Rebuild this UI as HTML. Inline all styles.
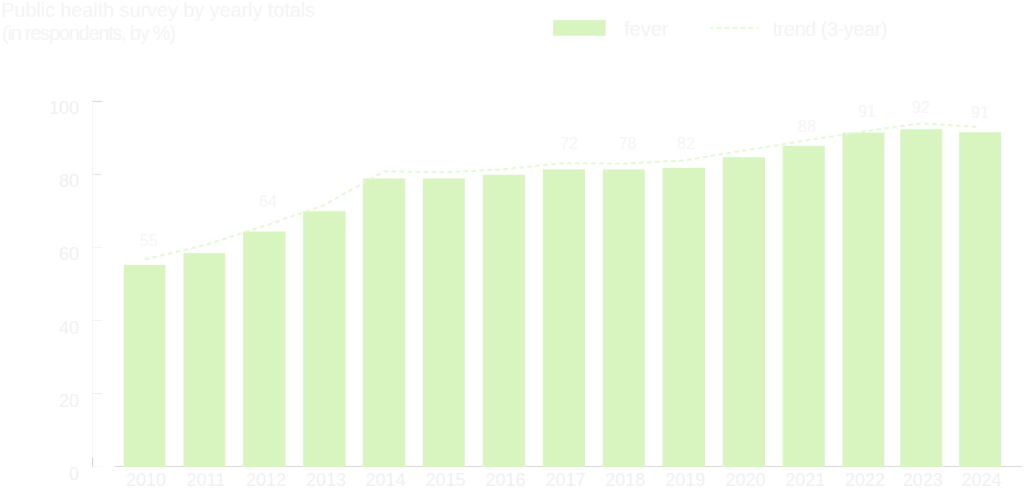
<!DOCTYPE html>
<html><head><meta charset="utf-8"><title>chart</title>
<style>
html,body{margin:0;padding:0;background:#fff;}
body{width:1024px;height:492px;overflow:hidden;font-family:"Liberation Sans",sans-serif;}
svg{display:block}
text{font-family:"Liberation Sans",sans-serif;}
</style></head><body>
<svg width="1024" height="492" viewBox="0 0 1024 492">
<rect width="1024" height="492" fill="#ffffff"/>

<g fill="#f4f4f4" font-size="20">
<text x="1" y="17" textLength="314" lengthAdjust="spacing">Public health survey by yearly totals</text>
<text x="2" y="39.5" textLength="174" lengthAdjust="spacing">(in respondents, by %)</text>
</g>
<rect x="553.1" y="20.1" width="52.5" height="15.7" fill="#d8f5c0"/>
<text x="624" y="35.5" font-size="20" fill="#f3f3f3">fever</text>
<line x1="710.6" y1="28" x2="758.8" y2="28" stroke="#e6f9d8" stroke-width="2" stroke-dasharray="4.5 3.5" stroke-dashoffset="2"/>
<text x="772.5" y="35.5" font-size="20" fill="#f3f3f3" textLength="115" lengthAdjust="spacing">trend (3-year)</text>
<line x1="92.5" y1="101.4" x2="92.5" y2="466.5" stroke="#f5f8f0" stroke-width="1"/>
<line x1="92.5" y1="101.4" x2="102" y2="101.4" stroke="#d4d4d4" stroke-width="1"/>
<text x="79" y="114.4" font-size="18" text-anchor="end" fill="#f0f0f0">100</text>
<line x1="92.5" y1="174.4" x2="102" y2="174.4" stroke="#e4e4e4" stroke-width="1"/>
<text x="79" y="187.4" font-size="18" text-anchor="end" fill="#f0f0f0">80</text>
<line x1="92.5" y1="247.4" x2="102" y2="247.4" stroke="#f2f2f2" stroke-width="1"/>
<text x="79" y="260.4" font-size="18" text-anchor="end" fill="#f0f0f0">60</text>
<line x1="92.5" y1="320.5" x2="102" y2="320.5" stroke="#f2f2f2" stroke-width="1"/>
<text x="79" y="333.5" font-size="18" text-anchor="end" fill="#f0f0f0">40</text>
<line x1="92.5" y1="393.5" x2="102" y2="393.5" stroke="#eeeeee" stroke-width="1"/>
<text x="79" y="406.5" font-size="18" text-anchor="end" fill="#f0f0f0">20</text>
<line x1="92.5" y1="466.5" x2="102" y2="466.5" stroke="#f6f6f6" stroke-width="1"/>
<text x="79" y="479.5" font-size="18" text-anchor="end" fill="#f0f0f0">0</text>
<rect x="92" y="458" width="1" height="8.5" fill="#d0d0d0"/>
<rect x="115" y="466" width="907" height="1" fill="#dadada"/>
<rect x="123.75" y="265.00" width="41.65" height="202.10" fill="#d8f5c0"/>
<text x="146.1" y="486" font-size="18" text-anchor="middle" fill="#f0f0f0">2010</text>
<rect x="183.40" y="253.10" width="41.90" height="214.00" fill="#d8f5c0"/>
<text x="205.9" y="486" font-size="18" text-anchor="middle" fill="#f0f0f0">2011</text>
<rect x="243.10" y="231.50" width="42.50" height="235.60" fill="#d8f5c0"/>
<text x="265.9" y="486" font-size="18" text-anchor="middle" fill="#f0f0f0">2012</text>
<rect x="303.10" y="211.25" width="42.50" height="255.85" fill="#d8f5c0"/>
<text x="325.9" y="486" font-size="18" text-anchor="middle" fill="#f0f0f0">2013</text>
<rect x="362.90" y="178.50" width="42.35" height="288.60" fill="#d8f5c0"/>
<text x="385.6" y="486" font-size="18" text-anchor="middle" fill="#f0f0f0">2014</text>
<rect x="422.90" y="178.50" width="41.90" height="288.60" fill="#d8f5c0"/>
<text x="445.4" y="486" font-size="18" text-anchor="middle" fill="#f0f0f0">2015</text>
<rect x="482.90" y="174.80" width="42.30" height="292.30" fill="#d8f5c0"/>
<text x="505.6" y="486" font-size="18" text-anchor="middle" fill="#f0f0f0">2016</text>
<rect x="542.90" y="169.40" width="42.10" height="297.70" fill="#d8f5c0"/>
<text x="565.5" y="486" font-size="18" text-anchor="middle" fill="#f0f0f0">2017</text>
<rect x="602.90" y="169.40" width="41.90" height="297.70" fill="#d8f5c0"/>
<text x="625.3" y="486" font-size="18" text-anchor="middle" fill="#f0f0f0">2018</text>
<rect x="662.60" y="167.80" width="42.40" height="299.30" fill="#d8f5c0"/>
<text x="685.3" y="486" font-size="18" text-anchor="middle" fill="#f0f0f0">2019</text>
<rect x="722.75" y="157.20" width="42.25" height="309.90" fill="#d8f5c0"/>
<text x="745.4" y="486" font-size="18" text-anchor="middle" fill="#f0f0f0">2020</text>
<rect x="782.70" y="145.75" width="42.10" height="321.35" fill="#d8f5c0"/>
<text x="805.2" y="486" font-size="18" text-anchor="middle" fill="#f0f0f0">2021</text>
<rect x="842.50" y="132.65" width="41.90" height="334.45" fill="#d8f5c0"/>
<text x="865.0" y="486" font-size="18" text-anchor="middle" fill="#f0f0f0">2022</text>
<rect x="900.30" y="129.20" width="41.95" height="337.90" fill="#d8f5c0"/>
<text x="922.8" y="486" font-size="18" text-anchor="middle" fill="#f0f0f0">2023</text>
<rect x="959.10" y="132.25" width="41.95" height="334.85" fill="#d8f5c0"/>
<text x="981.6" y="486" font-size="18" text-anchor="middle" fill="#f0f0f0">2024</text>
<path d="M144.6,259.4 L204.4,245.2 L264.4,226.0 L324.4,205.0 L384.1,171.3 L443.9,172.3 L504.1,169.2 L564.0,163.1 L623.8,163.6 L683.8,160.5 L743.9,150.6 L803.8,140.8 L863.5,131.5 L921.3,123.3 L980.1,126.9" fill="none" stroke="#e4f8d6" stroke-width="2" stroke-dasharray="4.5 3.5"/>
<text x="148.7" y="245.5" font-size="16" text-anchor="middle" fill="#f5f5f5">55</text>
<text x="268" y="207" font-size="16" text-anchor="middle" fill="#f5f5f5">64</text>
<text x="569.1" y="148.7" font-size="16" text-anchor="middle" fill="#f5f5f5">72</text>
<text x="627.6" y="148.7" font-size="16" text-anchor="middle" fill="#f5f5f5">78</text>
<text x="686" y="148.7" font-size="16" text-anchor="middle" fill="#f5f5f5">82</text>
<text x="807" y="131.9" font-size="16" text-anchor="middle" fill="#f5f5f5">88</text>
<text x="867" y="117" font-size="16" text-anchor="middle" fill="#f5f5f5">91</text>
<text x="921" y="113" font-size="16" text-anchor="middle" fill="#f5f5f5">92</text>
<text x="980" y="118" font-size="16" text-anchor="middle" fill="#f5f5f5">91</text>
</svg></body></html>
